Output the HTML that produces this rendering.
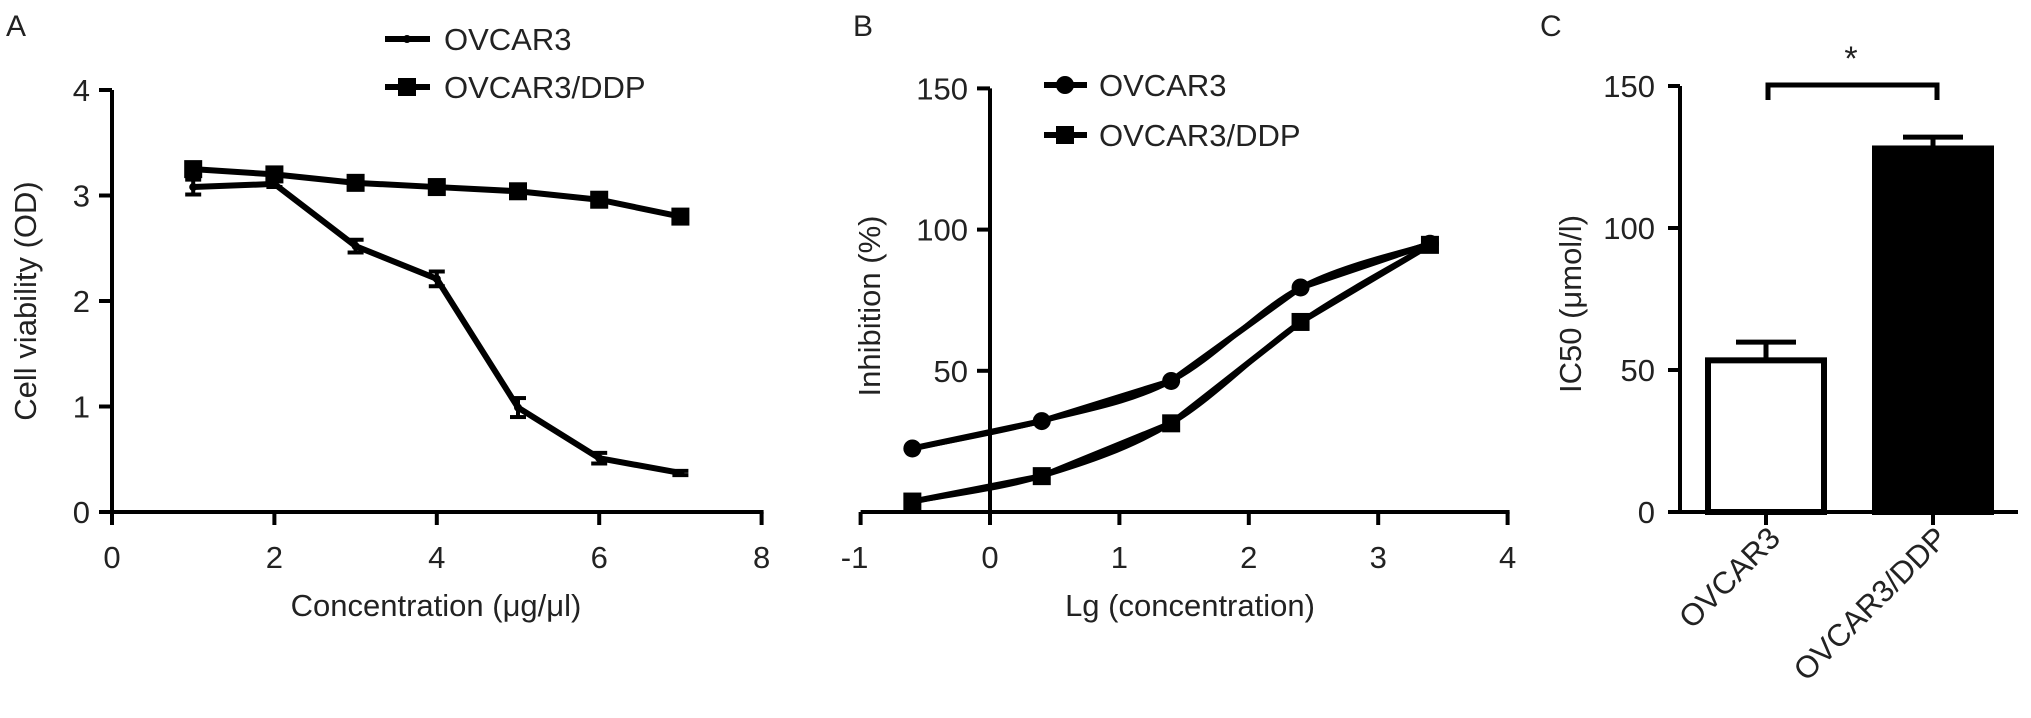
<!DOCTYPE html>
<html><head><meta charset="utf-8"><style>
html,body{margin:0;padding:0;background:#fff;}
svg{display:block;font-family:"Liberation Sans",Arial,sans-serif;}
</style></head><body>
<svg id="fig" width="2031" height="718" viewBox="0 0 2031 718" xmlns="http://www.w3.org/2000/svg"></svg>
<script>
// Panel A data
const aX = [1,2,3,4,5,6,7];
const aOvcar = [3.08,3.11,2.52,2.21,0.99,0.51,0.37];
const aOvcarErr = [0.07,0.03,0.06,0.07,0.09,0.05,0.02];
const aDdp = [3.25,3.20,3.12,3.08,3.04,2.96,2.80];
const aXTicks = [0,2,4,6,8];
const aYTicks = [0,1,2,3,4];
// Panel B data
const bX = [-0.6,0.4,1.4,2.4,3.4];
const bOvcar = [22.5,32.2,46.4,79.5,95];
const bDdp = [3.7,12.7,31.4,67.3,94.6];
const bXTicks = [-1,0,1,2,3,4];
const bYTicks = [50,100,150];
// Panel C data
const cCats = ["OVCAR3","OVCAR3/DDP"];
const cVals = [53.4,128];
const cErr = [6.4,4];
const cYTicks = [0,50,100,150];

const svg = document.getElementById('fig');
const NS = "http://www.w3.org/2000/svg";
function el(tag, attrs, parent){const e=document.createElementNS(NS,tag);for(const k in attrs)e.setAttribute(k,attrs[k]);(parent||svg).appendChild(e);return e;}
function txt(s, attrs, parent){const e=el('text',attrs,parent);e.textContent=s;return e;}

const FS = 31;
// ---------- Panel A ----------
const gA = el('g',{});  
const ax = v => 112 + v*81.2;
const ay = v => 512 - v*105.5;
txt('A',{x:6,y:36,'font-size':30,fill:'#222'},gA);
let a1=el('line',{x1:ax(0),y1:ay(0),x2:ax(8)+2,y2:ay(0),stroke:'#000','stroke-width':4},gA); 
let a2=el('line',{x1:ax(0),y1:ay(0)+2,x2:ax(0),y2:ay(4),stroke:'#000','stroke-width':4},gA); 
aXTicks.forEach(t=>{el('line',{x1:ax(t),y1:ay(0),x2:ax(t),y2:ay(0)+13,stroke:'#000','stroke-width':4},gA);
 const l=txt(String(t),{x:ax(t),y:568,'font-size':FS,'text-anchor':'middle',fill:'#222'},gA); });
aYTicks.forEach(t=>{el('line',{x1:ax(0)-13,y1:ay(t),x2:ax(0),y2:ay(t),stroke:'#000','stroke-width':4},gA);
 const l=txt(String(t),{x:ax(0)-22,y:ay(t)+11,'font-size':FS,'text-anchor':'end',fill:'#222'},gA); });
let at=txt('Concentration (μg/μl)',{x:436,y:616,'font-size':FS,'text-anchor':'middle',fill:'#222'},gA); 
let ayt=txt('Cell viability (OD)',{x:0,y:0,'font-size':FS,'text-anchor':'middle',fill:'#222',transform:'translate(36,301) rotate(-90)'},gA); 
let pA1=el('polyline',{points:aX.map((x,i)=>ax(x)+','+ay(aOvcar[i])).join(' '),fill:'none',stroke:'#000','stroke-width':6,'stroke-linejoin':'round'},gA); 
aX.forEach((x,i)=>{const g=el('g',{},gA);  
 const yt=ay(aOvcar[i]+aOvcarErr[i]), yb=ay(aOvcar[i]-aOvcarErr[i]);
 el('line',{x1:ax(x),y1:yt,x2:ax(x),y2:yb,stroke:'#000','stroke-width':4},g);
 el('line',{x1:ax(x)-8,y1:yt,x2:ax(x)+8,y2:yt,stroke:'#000','stroke-width':4},g);
 el('line',{x1:ax(x)-8,y1:yb,x2:ax(x)+8,y2:yb,stroke:'#000','stroke-width':4},g);
 el('circle',{cx:ax(x),cy:ay(aOvcar[i]),r:4,fill:'#000'},g);});
let pA2=el('polyline',{points:aX.map((x,i)=>ax(x)+','+ay(aDdp[i])).join(' '),fill:'none',stroke:'#000','stroke-width':6,'stroke-linejoin':'round'},gA); 
aX.forEach((x,i)=>{const r=el('rect',{x:ax(x)-9,y:ay(aDdp[i])-9,width:18,height:18,fill:'#000'},gA);  });
// legend A
const lgA=el('g',{},gA);  
el('line',{x1:385,y1:39,x2:430,y2:39,stroke:'#000','stroke-width':6},lgA); el('circle',{cx:407,cy:39,r:4,fill:'#000'},lgA);
txt('OVCAR3',{x:444,y:50,'font-size':FS,fill:'#222'},lgA);
el('line',{x1:385,y1:87,x2:430,y2:87,stroke:'#000','stroke-width':6},lgA); el('rect',{x:398,y:78,width:18,height:18,fill:'#000'},lgA);
txt('OVCAR3/DDP',{x:444,y:98,'font-size':FS,fill:'#222'},lgA);

// ---------- Panel B ----------
const gB = el('g',{});  
const bx = v => 990 + v*129.4;
const by = v => 512 - v*2.824;
txt('B',{x:853,y:36,'font-size':30,fill:'#222'},gB);
let b1=el('line',{x1:bx(-1),y1:by(0),x2:bx(4)+2,y2:by(0),stroke:'#000','stroke-width':4},gB); 
let b2=el('line',{x1:bx(0),y1:by(0),x2:bx(0),y2:by(150),stroke:'#000','stroke-width':4},gB); 
bXTicks.forEach(t=>{el('line',{x1:bx(t),y1:by(0),x2:bx(t),y2:by(0)+13,stroke:'#000','stroke-width':4},gB);
 const l=txt(String(t),{x:bx(t)-(t<0?6:0),y:568,'font-size':FS,'text-anchor':'middle',fill:'#222'},gB); });
bYTicks.forEach(t=>{el('line',{x1:bx(0)-13,y1:by(t),x2:bx(0),y2:by(t),stroke:'#000','stroke-width':4},gB);
 const l=txt(String(t),{x:bx(0)-22,y:by(t)+11,'font-size':FS,'text-anchor':'end',fill:'#222'},gB); });
txt('Lg (concentration)',{x:1190,y:616,'font-size':FS,'text-anchor':'middle',fill:'#222'},gB);
txt('Inhibition (%)',{x:0,y:0,'font-size':FS,'text-anchor':'middle',fill:'#222',transform:'translate(880,306) rotate(-90)'},gB);
function smooth(xs,ys){let p=xs.map((x,i)=>[bx(x),by(ys[i])]);let d='M'+p[0].join(',');
 for(let i=0;i<p.length-1;i++){const p0=p[Math.max(0,i-1)],p1=p[i],p2=p[i+1],p3=p[Math.min(p.length-1,i+2)];
  const c1=[p1[0]+(p2[0]-p0[0])/6,p1[1]+(p2[1]-p0[1])/6],c2=[p2[0]-(p3[0]-p1[0])/6,p2[1]-(p3[1]-p1[1])/6];
  d+=' C'+c1.join(',')+' '+c2.join(',')+' '+p2.join(',');}return d;}
[[bOvcar,'ovcar3'],[bDdp,'ddp']].forEach(([ys,n])=>{
 const pl=el('polyline',{points:bX.map((x,i)=>bx(x)+','+by(ys[i])).join(' '),fill:'none',stroke:'#000','stroke-width':6,'stroke-linejoin':'round'},gB); 
 const fc=el('path',{d:smooth(bX,ys),fill:'none',stroke:'#000','stroke-width':5},gB); });
bX.forEach((x,i)=>{const c=el('circle',{cx:bx(x),cy:by(bOvcar[i]),r:9,fill:'#000'},gB);  });
bX.forEach((x,i)=>{const r=el('rect',{x:bx(x)-9,y:by(bDdp[i])-9,width:18,height:18,fill:'#000'},gB);  });
const lgB=el('g',{},gB);  
el('line',{x1:1044,y1:85,x2:1087,y2:85,stroke:'#000','stroke-width':6},lgB); el('circle',{cx:1065,cy:85,r:9,fill:'#000'},lgB);
txt('OVCAR3',{x:1099,y:96,'font-size':FS,fill:'#222'},lgB);
el('line',{x1:1044,y1:135,x2:1087,y2:135,stroke:'#000','stroke-width':6},lgB); el('rect',{x:1056,y:126,width:18,height:18,fill:'#000'},lgB);
txt('OVCAR3/DDP',{x:1099,y:146,'font-size':FS,fill:'#222'},lgB);

// ---------- Panel C ----------
const gC = el('g',{});  
const cy = v => 512 - v*2.84;
const cxs = [1766,1933];
const bw = 116;
txt('C',{x:1540,y:36,'font-size':30,fill:'#222'},gC);
let c1=el('line',{x1:1670,y1:cy(0),x2:2018,y2:cy(0),stroke:'#000','stroke-width':4},gC); 
let c2=el('line',{x1:1680,y1:cy(0),x2:1680,y2:cy(150),stroke:'#000','stroke-width':4},gC); 
cYTicks.forEach(t=>{el('line',{x1:1668,y1:cy(t),x2:1680,y2:cy(t),stroke:'#000','stroke-width':4},gC);
 const l=txt(String(t),{x:1655,y:cy(t)+11,'font-size':FS,'text-anchor':'end',fill:'#222'},gC); });
txt('IC50 (μmol/l)',{x:0,y:0,'font-size':FS,'text-anchor':'middle',fill:'#222',transform:'translate(1581,304) rotate(-90)'},gC);
cCats.forEach((c,i)=>{const x=cxs[i];
 const r=el('rect',{x:x-bw/2,y:cy(cVals[i]),width:bw,height:cy(0)-cy(cVals[i]),fill:i?'#000':'#fff',stroke:'#000','stroke-width':6},gC);
  
 const et=cy(cVals[i]+cErr[i]);
 el('line',{x1:x+(i?0:0),y1:cy(cVals[i]),x2:x,y2:et,stroke:'#000','stroke-width':5},gC);
 const cap=el('line',{x1:x-30,y1:et,x2:x+30,y2:et,stroke:'#000','stroke-width':5},gC); 
 el('line',{x1:x,y1:cy(0),x2:x,y2:cy(0)+13,stroke:'#000','stroke-width':4},gC);
 const l=txt(c,{x:0,y:0,'font-size':FS,'text-anchor':'end',fill:'#222',transform:'translate('+(x+16)+',540) rotate(-45)'},gC); });
const br=el('path',{d:'M1768,100 V85 H1937 V100',fill:'none',stroke:'#000','stroke-width':5},gC); 
txt('*',{x:1851,y:70,'font-size':34,'text-anchor':'middle',fill:'#222'},gC);
</script>
</body></html>
